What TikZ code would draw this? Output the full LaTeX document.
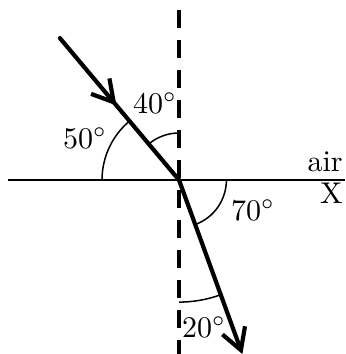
\documentclass[tikz,border=0pt]{standalone}
\usetikzlibrary{arrows.meta, decorations.markings}
\begin{document}
\begin{tikzpicture}

\tikzstyle{ray}=[line width=1.4pt, line cap=round]
\tikzstyle{normalline}=[line width=1.1pt, dash pattern=on 6pt off 4pt]
\tikzstyle{arcline}=[line width=0.5pt]
\tikzstyle{anglelabel}=[inner sep=0pt]
\tikzstyle{midarrow}=[postaction={decorate}, decoration={markings, mark=at position 0.475 with {\arrow{Straight Barb[length=7pt,width=8pt]}}}]

\useasboundingbox (-2.097,-2.038) rectangle (1.945,2.109);

\coordinate (o) at (0,0);
\coordinate (src) at (130:2.17);
\coordinate (dst) at (-70:2.17);
\coordinate (left) at (-2.003,0);
\coordinate (right) at (1.945,0);
\coordinate (top) at (0,1.991);
\coordinate (bottom) at (0,-2.038);

% surface and normal
\draw[line width=0.7pt] (left) -- (right);
\draw[normalline] (top) -- (bottom);

% angle arcs
\draw[arcline] (-0.902,0) arc (180:130:0.902);
\draw[arcline] (0,0.551) arc (90:130:0.551);
\draw[arcline] (0.555,0) arc (0:-70:0.555);
\draw[arcline] (0,-1.43) arc (-90:-70:1.43);

% rays
\draw[ray, midarrow] (src) -- (o);
\draw[ray, -{Straight Barb[length=7pt,width=8pt]}] (o) -- (dst);

% labels
\node (a40) [anglelabel] at (-0.281,0.896) {$40^\circ$};
\node (a50) [anglelabel] at (-1.101,0.492) {$50^\circ$};
\node (a70) [anglelabel] at (0.867,-0.351) {$70^\circ$};
\node (a20) [anglelabel] at (0.293,-1.722) {$20^\circ$};
\node (air) [anchor=base east, inner sep=0pt] at (1.925,0.097) {air};
\node (x) [anchor=base east, inner sep=0pt] at (1.925,-0.278) {X};

\end{tikzpicture}
\end{document}
